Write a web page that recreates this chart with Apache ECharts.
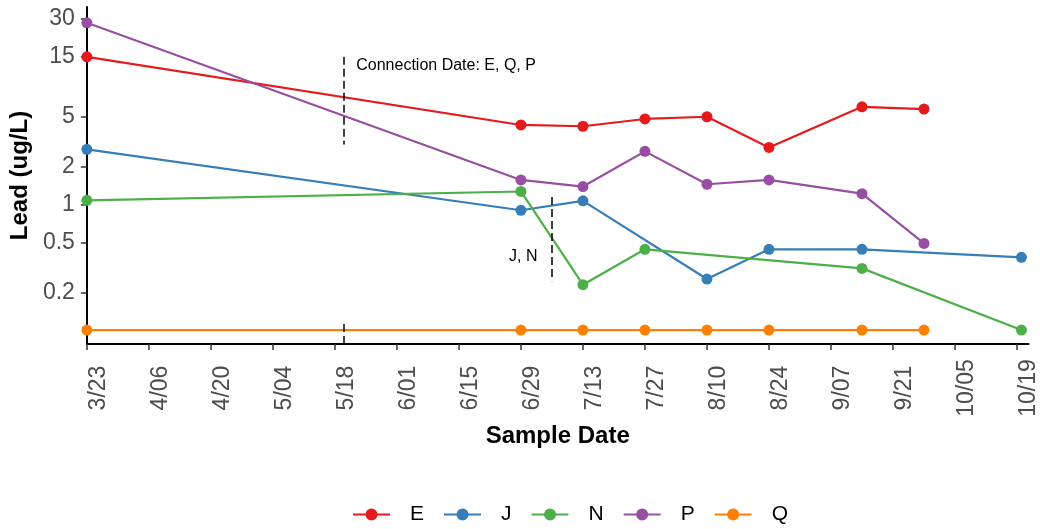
<!DOCTYPE html>
<html>
<head>
<meta charset="utf-8">
<script src="https://cdn.jsdelivr.net/npm/echarts@6/dist/echarts.min.js"></script>
<style>
  html, body { margin: 0; padding: 0; background: #fff; }
  #chart { width: 1040px; height: 529px; }
</style>
</head>
<body>
<div id="chart"></div>
<script>
// Lead concentration by sampling date for five service lines (log scale)
const DAY = 86400000;
const toTime = s => Date.parse(s + 'T00:00:00Z');

const eDates = ['2021-03-23', '2021-06-29', '2021-07-13', '2021-07-27', '2021-08-10', '2021-08-24', '2021-09-14', '2021-09-28'];
const eLead  = [15, 4.3, 4.2, 4.8, 5.0, 2.85, 6.0, 5.75];

const jDates = ['2021-03-23', '2021-06-29', '2021-07-13', '2021-08-10', '2021-08-24', '2021-09-14', '2021-10-20'];
const jLead  = [2.75, 0.9, 1.07, 0.255, 0.44, 0.44, 0.38];

const nDates = ['2021-03-23', '2021-06-29', '2021-07-13', '2021-07-27', '2021-09-14', '2021-10-20'];
const nLead  = [1.08, 1.27, 0.23, 0.44, 0.31, 0.1];

const pDates = ['2021-03-23', '2021-06-29', '2021-07-13', '2021-07-27', '2021-08-10', '2021-08-24', '2021-09-14', '2021-09-28'];
const pLead  = [28, 1.57, 1.39, 2.65, 1.45, 1.57, 1.22, 0.49];

const qDates = ['2021-03-23', '2021-06-29', '2021-07-13', '2021-07-27', '2021-08-10', '2021-08-24', '2021-09-14', '2021-09-28'];
const qLead  = [0.1, 0.1, 0.1, 0.1, 0.1, 0.1, 0.1, 0.1];

const seriesNames  = ['E', 'J', 'N', 'P', 'Q'];
const seriesColors = ['#E41A1C', '#377EB8', '#4DAF4A', '#984EA3', '#FF7F00'];

const xTickDates = ['2021-03-23', '2021-04-06', '2021-04-20', '2021-05-04', '2021-05-18', '2021-06-01',
                    '2021-06-15', '2021-06-29', '2021-07-13', '2021-07-27', '2021-08-10', '2021-08-24',
                    '2021-09-07', '2021-09-21', '2021-10-05', '2021-10-19'];
const yTicks = [0.2, 0.5, 1, 2, 5, 15, 30];

// Connection dates (dashed markers)
const connectionDate = '2021-05-20';
const connectionLabel = 'Connection Date: E, Q, P';
const jnDate = '2021-07-06';
const jnLabel = 'J, N';

const xMin = toTime('2021-03-23');
const xMax = xMin + 212.6 * DAY;
const yMin = 0.0775;
const yMax = 37.4;

const FONT = '"Liberation Sans", Arial, Helvetica, sans-serif';

function fmtDate(v) {
  const d = new Date(v);
  const dd = d.getUTCDate();
  return (d.getUTCMonth() + 1) + '/' + (dd < 10 ? '0' + dd : dd);
}

function lineSeries(name, color, dates, values) {
  return {
    name: name,
    type: 'line',
    data: dates.map((d, i) => [toTime(d), values[i]]),
    symbol: 'circle',
    symbolSize: 11,
    showSymbol: true,
    lineStyle: { width: 2.2, color: color },
    itemStyle: { color: color },
    emphasis: { disabled: true }
  };
}

const allDates = [eDates, jDates, nDates, pDates, qDates];
const allLead = [eLead, jLead, nLead, pLead, qLead];
const series = seriesNames.map((n, i) => lineSeries(n, seriesColors[i], allDates[i], allLead[i]));

const dashStyle = { type: [8, 4], color: '#000', width: 1.5 };
const tConn = toTime(connectionDate);
const tJN = toTime(jnDate);

series.push({
  name: 'markers',
  type: 'line',
  data: [],
  silent: true,
  markLine: {
    silent: true,
    symbol: ['none', 'none'],
    lineStyle: dashStyle,
    label: { show: false },
    animation: false,
    data: [
      [{ coord: [tConn, 15] }, { coord: [tConn, 3] }],
      [{ coord: [tConn, yMin] }, { coord: [tConn, 0.115] }],
      [{ coord: [tJN, 1.15] }, { coord: [tJN, 0.245] }]
    ]
  },
  markPoint: {
    silent: true,
    symbol: 'circle',
    symbolSize: 1,
    itemStyle: { color: 'rgba(0,0,0,0)' },
    animation: false,
    data: [
      {
        coord: [tConn, 12.6],
        label: { show: true, formatter: connectionLabel, position: [13, 0], align: 'left', verticalAlign: 'middle',
                 color: '#000', fontSize: 16, fontFamily: FONT }
      },
      {
        coord: [tJN, 0.38],
        label: { show: true, formatter: jnLabel, position: [-14, 0], align: 'right', verticalAlign: 'middle',
                 color: '#000', fontSize: 16, fontFamily: FONT }
      }
    ]
  }
});

const chart = echarts.init(document.getElementById('chart'), null, { renderer: 'canvas' });
chart.setOption({
  animation: false,
  backgroundColor: '#fff',
  textStyle: { fontFamily: FONT },
  grid: { left: 86, right: 7, top: 7, bottom: 185 },
  legend: {
    data: seriesNames,
    left: 347,
    top: 499,
    itemWidth: 37,
    itemHeight: 15,
    itemGap: 19,
    textStyle: { fontSize: 21, color: '#000', fontFamily: FONT, padding: [0, 0, 0, 15] }
  },
  xAxis: {
    type: 'value',
    min: xMin,
    max: xMax,
    name: 'Sample Date',
    nameLocation: 'middle',
    nameGap: 79,
    nameTextStyle: { fontSize: 24, fontWeight: 'bold', color: '#000', fontFamily: FONT },
    axisLine: { show: true, onZero: false, lineStyle: { color: '#000', width: 2 } },
    axisTick: { show: true, length: 6, customValues: xTickDates.map(toTime), lineStyle: { color: '#333', width: 1.5 } },
    axisLabel: {
      customValues: xTickDates.map(toTime),
      formatter: v => fmtDate(v),
      rotate: 90,
      align: 'center',
      verticalAlign: 'top',
      margin: 44,
      fontSize: 23,
      color: '#4D4D4D',
      fontFamily: FONT
    },
    splitLine: { show: false }
  },
  yAxis: {
    type: 'log',
    logBase: 10,
    min: yMin,
    max: yMax,
    name: 'Lead (ug/L)',
    nameLocation: 'middle',
    nameGap: 53,
    nameTextStyle: { fontSize: 24, fontWeight: 'bold', color: '#000', fontFamily: FONT },
    axisLine: { show: true, onZero: false, lineStyle: { color: '#000', width: 2 } },
    axisTick: { show: true, length: 6, customValues: yTicks, lineStyle: { color: '#333', width: 1.5 } },
    axisLabel: {
      customValues: yTicks,
      formatter: v => String(v),
      margin: 12,
      fontSize: 23,
      color: '#4D4D4D',
      fontFamily: FONT
    },
    splitLine: { show: false },
    minorSplitLine: { show: false }
  },
  series: series
});
</script>
</body>
</html>
